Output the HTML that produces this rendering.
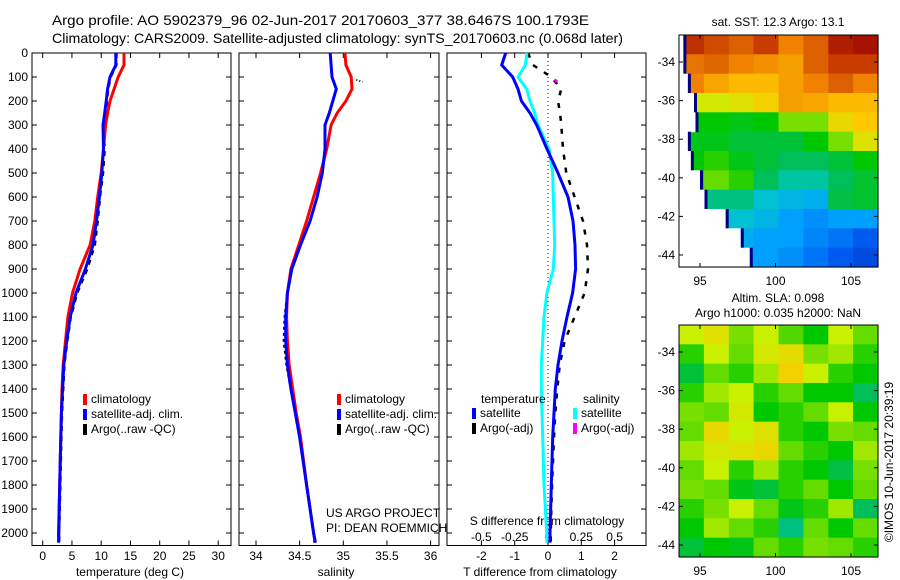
<!DOCTYPE html>
<html><head><meta charset="utf-8"><style>
html,body{margin:0;padding:0;background:#fff;}
svg{display:block;font-family:"Liberation Sans",sans-serif;}
</style></head><body>
<svg id="chart" width="900" height="580" viewBox="0 0 900 580" xmlns="http://www.w3.org/2000/svg">
<text x="52" y="25" font-size="14" textLength="537" lengthAdjust="spacingAndGlyphs">Argo profile: AO 5902379_96 02-Jun-2017 20170603_377 38.6467S 100.1793E</text>
<text x="52" y="43" font-size="14" textLength="571" lengthAdjust="spacingAndGlyphs">Climatology: CARS2009. Satellite-adjusted climatology: synTS_20170603.nc (0.068d later)</text>
<g id="g1"></g>
<g id="g2"></g>
<g id="g3"></g>
<g id="m1"></g>
<g id="m2"></g>
<text x="778" y="26" font-size="12" text-anchor="middle">sat. SST: 12.3 Argo: 13.1</text>
<text x="778" y="302" font-size="12" text-anchor="middle">Altim. SLA: 0.098</text>
<text x="778" y="317" font-size="12" text-anchor="middle">Argo h1000: 0.035 h2000: NaN</text>
<text transform="translate(893,462) rotate(-90)" font-size="12" text-anchor="middle">©IMOS 10-Jun-2017 20:39:19</text>
<text x="326" y="517" font-size="12">US ARGO PROJECT</text>
<text x="326" y="532" font-size="12">PI: DEAN ROEMMICH</text>
</svg>
<script>
const depths=[0,50,100,150,200,250,300,400,500,600,700,800,900,1000,1100,1200,1300,1400,1500,1600,1800,2000,2040];
const depthTicks=[0,100,200,300,400,500,600,700,800,900,1000,1100,1200,1300,1400,1500,1600,1700,1800,1900,2000];
const tempClim=[13.9,13.9,12.9,12.2,11.5,11.1,10.75,10.4,10.0,9.4,8.9,8.1,6.4,5.1,4.3,3.9,3.5,3.3,3.2,3.1,2.9,2.7,2.7];
const tempSat=[12.5,12.5,11.5,11.1,10.85,10.6,10.3,10.4,10.1,9.7,9.2,8.6,7.3,5.7,4.7,4.1,3.6,3.4,3.2,3.1,2.9,2.75,2.75];
const tempArgo=[12.6,12.6,11.6,11.2,11.0,10.7,10.4,10.6,10.3,9.8,9.4,8.9,7.6,5.9,4.8,4.2,3.7,3.5,3.3,3.2,3.0,2.8,2.8];
const salClim=[35.02,35.03,35.09,35.10,35.03,34.93,34.86,34.81,34.74,34.66,34.58,34.49,34.40,34.36,34.35,34.36,34.38,34.42,34.46,34.51,34.58,34.66,34.68];
const salSat=[34.85,34.86,34.87,34.92,34.88,34.84,34.79,34.79,34.76,34.70,34.62,34.51,34.41,34.36,34.34,34.34,34.36,34.40,34.45,34.50,34.58,34.66,34.68];
const salArgo=[34.85,34.86,34.87,34.92,34.88,34.84,34.79,34.79,34.76,34.70,34.62,34.51,34.41,34.36,34.33,34.32,34.35,34.40,34.45,34.50,34.58,34.66,34.67];
const salArgoSpikeDepth=[112,120];
const salArgoSpike=[35.15,35.22];
const tDiffSat=[-1.27,-1.39,-1.06,-0.9,-0.8,-0.54,-0.34,-0.03,0.3,0.6,0.75,0.81,0.83,0.74,0.57,0.42,0.3,0.22,0.18,0.14,0.1,0.06,0.06];
const sDiffSat=[-0.158,-0.17,-0.225,-0.16,-0.135,-0.1,-0.075,0.008,0.035,0.04,0.045,0.05,0.04,-0.008,-0.03,-0.04,-0.05,-0.05,-0.045,-0.04,-0.03,-0.01,-0.01];
const tDiffArgo=[-0.6,-0.45,0.1,0.4,0.3,0.36,0.4,0.45,0.55,0.8,1.05,1.17,1.2,1.1,0.8,0.5,0.35,0.28,0.22,0.18,0.12,0.08,0.08];
const sDiffArgoDepth=[110,120];
const sDiffArgo=[0.05,0.07];
const tempTicks=[0,5,10,15,20,25,30];
const salTicks=[34,34.5,35,35.5,36];
const tDiffTicks=[-2,-1,0,1,2];
const sDiffTicks=[-0.5,-0.25,0,0.25,0.5];
const sDiffTickLabels=["-0.5","-0.25","0","0.25","0.5"];
const latTicks=[-34,-36,-38,-40,-42,-44];
const lonTicks=[95,100,105];
// map grids (rows lat -33 .. -44.5, cols lon 94 .. 106.7)
const sstGrid=[
[0.92,0.88,0.85,0.9,0.8,0.85,0.95,0.97],
[0.82,0.84,0.8,0.78,0.76,0.85,0.9,0.9],
[0.8,0.75,0.72,0.72,0.76,0.8,0.85,0.8],
[0.62,0.62,0.64,0.68,0.76,0.75,0.72,0.72],
[0.5,0.5,0.48,0.5,0.56,0.56,0.66,0.7],
[0.48,0.48,0.45,0.45,0.45,0.5,0.56,0.64],
[0.5,0.52,0.48,0.45,0.42,0.42,0.45,0.5],
[0.52,0.55,0.52,0.42,0.38,0.38,0.42,0.46],
[0.38,0.4,0.4,0.35,0.33,0.32,0.44,0.46],
[0.36,0.36,0.35,0.33,0.3,0.28,0.3,0.3],
[0.34,0.34,0.32,0.3,0.3,0.27,0.25,0.22],
[0.32,0.32,0.3,0.3,0.28,0.25,0.22,0.2]];
// lon where land/no-data mask ends per row
const sstLandEdge=[93.9,93.9,94.2,94.6,94.7,94.2,94.4,95.0,95.3,96.7,97.7,98.3];
const slaGrid=[
[0.6,0.64,0.56,0.6,0.54,0.5,0.6,0.55],
[0.52,0.6,0.55,0.62,0.65,0.56,0.58,0.52],
[0.45,0.55,0.52,0.58,0.68,0.6,0.52,0.5],
[0.52,0.58,0.6,0.52,0.55,0.5,0.5,0.42],
[0.56,0.55,0.62,0.5,0.52,0.55,0.6,0.5],
[0.55,0.66,0.6,0.64,0.52,0.5,0.56,0.55],
[0.58,0.62,0.64,0.66,0.55,0.52,0.5,0.58],
[0.55,0.6,0.52,0.58,0.52,0.5,0.44,0.56],
[0.56,0.55,0.48,0.45,0.52,0.55,0.5,0.55],
[0.52,0.56,0.6,0.55,0.48,0.52,0.58,0.42],
[0.5,0.58,0.55,0.52,0.4,0.55,0.5,0.55],
[0.45,0.5,0.48,0.55,0.52,0.56,0.55,0.52]];

const NS="http://www.w3.org/2000/svg";
function mk(parent,tag,attrs,txt){const e=document.createElementNS(NS,tag);for(const k in attrs)e.setAttribute(k,attrs[k]);if(txt!==undefined)e.textContent=txt;parent.appendChild(e);return e;}
const Y0=53,PXD=0.24,YB=545.5;
const yD=d=>Y0+d*PXD;
function linFn(v0,p0,scale){return v=>p0+(v-v0)*scale;}
function pathOf(xs,ds,xf){return ds.map((d,i)=>(i?'L':'M')+xf(xs[i]).toFixed(1)+','+yD(d).toFixed(1)).join(' ');}
function series(g,vals,ds,xf,color,w,dash,name){
 const p=mk(g,'path',{d:pathOf(vals,ds,xf),fill:'none',stroke:color,'stroke-width':w});
 if(dash)p.setAttribute('stroke-dasharray',dash);
 
 
}
function frame(g,x0,x1,name){
 const r=mk(g,'rect',{x:x0,y:Y0,width:x1-x0,height:YB-Y0,fill:'none',stroke:'#000','stroke-width':1});
 
 
 depthTicks.forEach(d=>{const y=yD(d);mk(g,'line',{x1:x0,x2:x0+5,y1:y,y2:y,stroke:'#000'});mk(g,'line',{x1:x1,x2:x1-5,y1:y,y2:y,stroke:'#000'});});
}
function xticks(g,ticks,labels,xf,ly,name){
 ticks.forEach((t,i)=>{const x=xf(t);mk(g,'line',{x1:x,x2:x,y1:YB,y2:YB-5,stroke:'#000'});mk(g,'line',{x1:x,x2:x,y1:Y0,y2:Y0+5,stroke:'#000'});
  const tx=mk(g,'text',{x:x,y:ly,'font-size':12,'text-anchor':'middle'},labels[i]);
  
  });
}
function legend(g,x,y,items){
 items.forEach((it,i)=>{mk(g,'rect',{x:x,y:y+i*15-9,width:4,height:11,fill:it[0]});
  const t=mk(g,'text',{x:x+8,y:y+i*15,'font-size':12},it[1]);
  
  });
}
// Panel 1
const g1=document.getElementById('g1');
const xT=linFn(0,42.7,5.85);
frame(g1,32,231,'temperature-axes');
depthTicks.forEach(d=>{const t=mk(g1,'text',{x:28,y:yD(d)+4,'font-size':12,'text-anchor':'end'},String(d));
 
 });
xticks(g1,tempTicks,tempTicks.map(String),xT,560,'temperature-tick-label');
mk(g1,'text',{x:130,y:576,'font-size':12,'text-anchor':'middle'},'temperature (deg C)');
series(g1,tempArgo,depths,xT,'#000',2.5,'5,5','temperature-argo-line');
series(g1,tempClim,depths,xT,'#f00',3,null,'temperature-climatology-line');
series(g1,tempSat,depths,xT,'#00f',3,null,'temperature-satellite-line');
legend(g1,83,403,[['#f00','climatology'],['#00f','satellite-adj. clim.'],['#000','Argo(..raw -QC)']]);
// Panel 2
const g2=document.getElementById('g2');
const xS=linFn(34,256,87.3);
frame(g2,239,439,'salinity-axes');
xticks(g2,salTicks,salTicks.map(String),xS,560,'salinity-tick-label');
mk(g2,'text',{x:336,y:576,'font-size':12,'text-anchor':'middle'},'salinity');
series(g2,salArgo,depths,xS,'#000',2.5,'3,3','salinity-argo-line');
series(g2,salClim,depths,xS,'#f00',3,null,'salinity-climatology-line');
series(g2,salSat,depths,xS,'#00f',3,null,'salinity-satellite-line');
series(g2,salArgoSpike,salArgoSpikeDepth,xS,'#000',2,'1,2','salinity-argo-spike');
legend(g2,337,403,[['#f00','climatology'],['#00f','satellite-adj. clim.'],['#000','Argo(..raw -QC)']]);
// Panel 3
const g3=document.getElementById('g3');
const xTd=linFn(0,548,33.3);
const xSd=linFn(0,548,133.2);
frame(g3,447,646,'difference-axes');
mk(g3,'line',{x1:548,x2:548,y1:Y0,y2:YB,stroke:'#000','stroke-dasharray':'1,3'});
xticks(g3,tDiffTicks,tDiffTicks.map(String),xTd,560,'t-diff-tick-label');
sDiffTicks.forEach((t,i)=>{const tx=mk(g3,'text',{x:xSd(t),y:541,'font-size':12,'text-anchor':'middle'},sDiffTickLabels[i]);
 
 });
mk(g3,'text',{x:547,y:525,'font-size':12,'text-anchor':'middle'},'S difference from climatology');
mk(g3,'text',{x:540,y:576,'font-size':12,'text-anchor':'middle'},'T difference from climatology');
series(g3,tDiffArgo,depths,xTd,'#000',2.5,'5,8','t-diff-argo-line');
series(g3,sDiffSat,depths,xSd,'#0ff',3,null,'s-diff-satellite-line');
series(g3,tDiffSat,depths,xTd,'#00f',3,null,'t-diff-satellite-line');
series(g3,sDiffArgo,sDiffArgoDepth,xSd,'#f0f',2.5,null,'s-diff-argo-line');
mk(g3,'text',{x:481,y:403,'font-size':12},'temperature');
mk(g3,'text',{x:583,y:403,'font-size':12},'salinity');
legend(g3,472,417,[['#00f','satellite'],['#000','Argo(-adj)']]);
legend(g3,573,417,[['#0ff','satellite'],['#f0f','Argo(-adj)']]);
// Maps
function jet(v){
 const c=[[0.1,[0,0,140]],[0.22,[0,90,240]],[0.3,[0,160,255]],[0.36,[0,200,200]],[0.42,[0,190,90]],[0.5,[0,200,0]],[0.6,[200,240,0]],[0.7,[255,200,0]],[0.8,[240,130,0]],[0.9,[200,60,0]],[1.0,[150,0,0]]];
 if(v<=c[0][0])return 'rgb('+c[0][1]+')';
 for(let i=1;i<c.length;i++){if(v<=c[i][0]){const f=(v-c[i-1][0])/(c[i][0]-c[i-1][0]);const a=c[i-1][1],b=c[i][1];return 'rgb('+a.map((x,k)=>Math.round(x+(b[k]-x)*f)).join(',')+')';}}
 return 'rgb(150,0,0)';
}
function drawMap(id,grid,land,x0,y0,w,h,name){
 const g=document.getElementById(id);
 const lonF=linFn(95,700,15.1), latF=linFn(-34,y0+27,-19.3);
 const rows=grid.length, cols=grid[0].length, cw=w/cols, ch=h/rows;
 grid.forEach((row,r)=>row.forEach((v,c)=>{
  const cell=mk(g,'rect',{x:(x0+c*cw).toFixed(1),y:(y0+r*ch).toFixed(1),width:(cw+0.6).toFixed(1),height:(ch+0.6).toFixed(1),fill:jet(v)});
  
  }));
 if(land){land.forEach((lon,r)=>{const xe=Math.max(x0,lonF(lon));if(xe<=x0)return;
  const lr=mk(g,'rect',{x:x0,y:(y0+r*ch).toFixed(1),width:(xe-x0).toFixed(1),height:(ch+0.6).toFixed(1),fill:'#fff'});
  
  
  mk(g,'rect',{x:xe.toFixed(1),y:(y0+r*ch).toFixed(1),width:3,height:(ch+0.6).toFixed(1),fill:'#000080'});});}
 const f=mk(g,'rect',{x:x0,y:y0,width:w,height:h,fill:'none',stroke:'#000'});
 
 
 latTicks.forEach(l=>{const y=latF(l);mk(g,'line',{x1:x0,x2:x0+4,y1:y,y2:y,stroke:'#000'});mk(g,'line',{x1:x0+w,x2:x0+w-4,y1:y,y2:y,stroke:'#000'});
  const t=mk(g,'text',{x:x0-4,y:y+4,'font-size':12,'text-anchor':'end'},String(l));
  
  });
 lonTicks.forEach(l=>{const x=lonF(l);mk(g,'line',{x1:x,x2:x,y1:y0+h,y2:y0+h-4,stroke:'#000'});mk(g,'line',{x1:x,x2:x,y1:y0,y2:y0+4,stroke:'#000'});
  const t=mk(g,'text',{x:x,y:y0+h+18,'font-size':12,'text-anchor':'middle'},String(l));
  
  });
}
drawMap('m1',sstGrid,sstLandEdge,679,35,199,232,'sst-map');
drawMap('m2',slaGrid,null,679,325,199,232,'sla-map');
</script>
</body></html>
